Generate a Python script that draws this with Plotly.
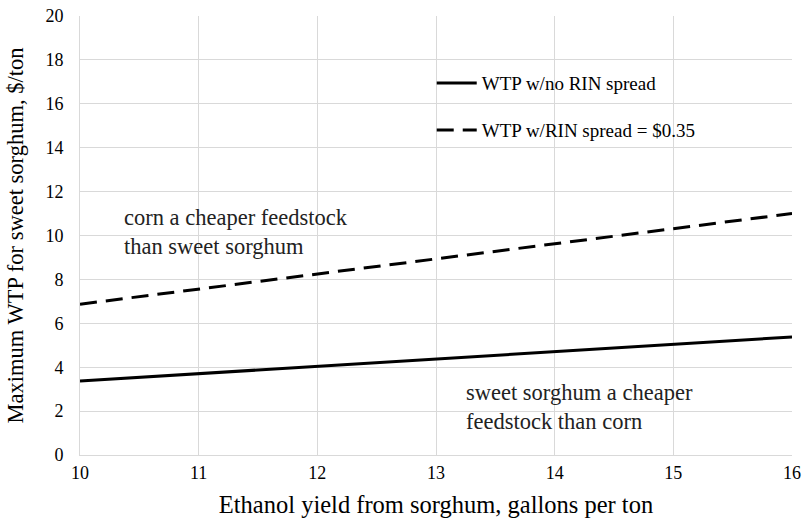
import plotly.graph_objects as go

# ----- data -----
yield_gal = [10, 11, 12, 13, 14, 15, 16]
wtp_no_rin = [3.37, 3.70, 4.03, 4.37, 4.71, 5.04, 5.38]
wtp_rin_035 = [6.87, 7.56, 8.25, 8.93, 9.62, 10.31, 11.0]

x_ticks = [10, 11, 12, 13, 14, 15, 16]
y_ticks = [0, 2, 4, 6, 8, 10, 12, 14, 16, 18, 20]

FONT = "Liberation Serif, Times New Roman, serif"
GRID = "#d9d9d9"
NOTICK = "rgba(0,0,0,0)"

fig = go.Figure()
fig.add_trace(go.Scatter(
    x=yield_gal, y=wtp_no_rin, mode="lines", name="WTP w/no RIN spread",
    line=dict(color="black", width=3), legend="legend",
))
fig.add_trace(go.Scatter(
    x=yield_gal, y=wtp_rin_035, mode="lines", name="WTP w/RIN spread = $0.35",
    line=dict(color="black", width=3, dash="17px,9px"), legend="legend2",
))

fig.add_annotation(x=10.354, y=10.15, xref="x", yref="y", xanchor="left", yanchor="middle",
                   text="corn a cheaper feedstock<br>than sweet sorghum", showarrow=False,
                   align="left", font=dict(family=FONT, size=22.5, color="#222"))
fig.add_annotation(x=13.236, y=2.19, xref="x", yref="y", xanchor="left", yanchor="middle",
                   text="sweet sorghum a cheaper<br>feedstock than corn", showarrow=False,
                   align="left", font=dict(family=FONT, size=22.5, color="#222"))

legend_style = dict(font=dict(family=FONT, size=19, color="black"),
                    bgcolor="rgba(0,0,0,0)", xanchor="left", yanchor="middle",
                    itemwidth=40)

fig.update_layout(
    width=803, height=524,
    margin=dict(l=80, r=11, t=16, b=69),
    paper_bgcolor="white", plot_bgcolor="white",
    font=dict(family=FONT, size=18, color="black"),
    showlegend=True,
    legend=dict(x=0.494, y=0.847, **legend_style),
    legend2=dict(x=0.494, y=0.740, **legend_style),
    xaxis=dict(
        range=[10, 16], tickvals=x_ticks, showgrid=True, gridcolor=GRID,
        showline=True, linecolor=GRID, linewidth=1, zeroline=False,
        ticks="outside", ticklen=1, tickcolor=NOTICK,
        tickfont=dict(family=FONT, size=18), automargin=False,
        ticklabeloverflow="allow",
        title=dict(text="Ethanol yield from sorghum, gallons per ton",
                   font=dict(family=FONT, size=24.5), standoff=14),
    ),
    yaxis=dict(
        range=[0, 20], tickvals=y_ticks, showgrid=True, gridcolor=GRID,
        showline=True, linecolor=GRID, linewidth=1, zeroline=False,
        ticks="outside", ticklen=12, tickcolor=NOTICK,
        tickfont=dict(family=FONT, size=18), automargin=False,
        ticklabeloverflow="allow",
        title=dict(text="Maximum WTP for sweet sorghum, $/ton",
                   font=dict(family=FONT, size=22.5), standoff=15),
    ),
)

# drop the browser's default body margin so the figure sits at the page origin
fig.write_html("out.html", config={"displayModeBar": False},
               post_script="document.body.style.margin='0';")
